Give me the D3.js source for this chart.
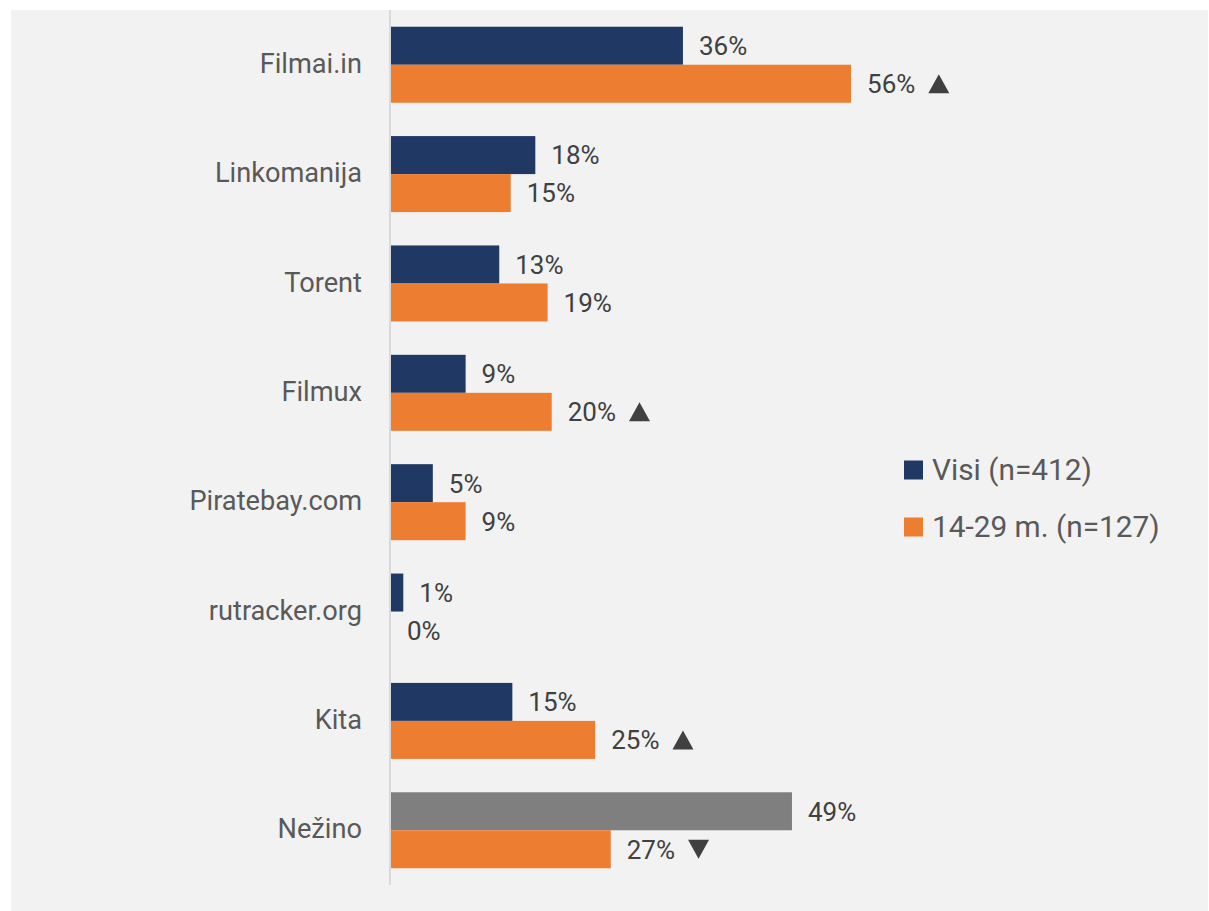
<!DOCTYPE html>
<html lang="lt">
<head>
  <meta charset="UTF-8" />
  <title>Svetainės</title>
  <script src="https://d3js.org/d3.v7.min.js"></script>
  <style>
    body { margin: 0; background: #fff; font-family: Roboto, Arial, sans-serif; }
    .cat { font-size: 27.2px; fill: #595959; }
    .val { font-size: 26px; fill: #404040; }
    .leg { font-size: 29.8px; fill: #595959; }
  </style>
</head>
<body>
<svg id="chart" width="1209" height="911"></svg>
<script>
// data
const categories = ["Filmai.in", "Linkomanija", "Torent", "Filmux", "Piratebay.com", "rutracker.org", "Kita", "Nežino"];
const allValues   = [35.6, 17.6, 13.2, 9.1, 5.1, 1.5, 14.8, 48.9];
const youngValues = [56.1, 14.6, 19.1, 19.6, 9.1, 0, 24.9, 26.8];
const allLabels   = ["36%", "18%", "13%", "9%", "5%", "1%", "15%", "49%"];
const youngLabels = ["56%", "15%", "19%", "20%", "9%", "0%", "25%", "27%"];
const youngMarks  = ["up", "", "", "up", "", "", "up", "down"];
const seriesNames = ["Visi (n=412)", "14-29 m. (n=127)"];
const colors = ["#203864", "#ed7d31"];
const unknownColor = "#7f7f7f";

const svg = d3.select("#chart");

svg.append("rect")
  .attr("x", 11).attr("y", 10)
  .attr("width", 1197).attr("height", 901)
  .attr("fill", "#f2f2f2");

const x = d3.scaleLinear().domain([0, 100]).range([391, 1211]);
const y = d3.scaleBand().domain(categories).range([10, 885]).paddingInner(0.305).paddingOuter(0.153);
const sub = d3.scaleBand().domain([0, 1]).range([0, y.bandwidth()]);

// axis line
svg.append("line")
  .attr("x1", 390).attr("x2", 390)
  .attr("y1", 10).attr("y2", 885)
  .attr("stroke", "#d9d9d9").attr("stroke-width", 2);

const rows = categories.map((c, i) => ({
  cat: c,
  bars: [
    { s: 0, v: allValues[i], label: allLabels[i], mark: "" },
    { s: 1, v: youngValues[i], label: youngLabels[i], mark: youngMarks[i] }
  ]
}));

const grp = svg.append("g").selectAll("g.row").data(rows).enter().append("g")
  .attr("class", "row")
  .attr("transform", d => `translate(0,${y(d.cat)})`);

grp.selectAll("rect").data(d => d.bars.map(b => ({ ...b, cat: d.cat }))).enter().append("rect")
  .attr("x", x(0))
  .attr("y", d => sub(d.s))
  .attr("width", d => x(d.v) - x(0))
  .attr("height", sub.bandwidth())
  .attr("fill", d => d.cat === "Nežino" && d.s === 0 ? unknownColor : colors[d.s]);

const vals = grp.selectAll("g.val").data(d => d.bars).enter().append("g")
  .attr("transform", d => `translate(${x(d.v) + 16},${sub(d.s) + sub.bandwidth() / 2})`);

vals.append("text")
  .attr("class", "val")
  .attr("dy", "0.36em")
  .text(d => d.label);

// significance triangles
vals.filter(d => d.mark).each(function(d) {
  const w = this.querySelector("text").getComputedTextLength();
  const x0 = w + 13, tw = 21, th = 19;
  const pts = d.mark === "up"
    ? [[x0, th / 2], [x0 + tw, th / 2], [x0 + tw / 2, -th / 2]]
    : [[x0, -th / 2], [x0 + tw, -th / 2], [x0 + tw / 2, th / 2]];
  d3.select(this).append("path")
    .attr("d", d3.line()(pts) + "Z")
    .attr("fill", "#404040");
});

grp.append("text")
  .attr("class", "cat")
  .attr("x", 362)
  .attr("y", y.bandwidth() / 2)
  .attr("dy", "0.3em")
  .attr("text-anchor", "end")
  .text(d => d.cat);

// legend
const legend = svg.append("g").attr("transform", "translate(904,0)");
seriesNames.forEach((name, i) => {
  const ly = 470 + i * 57;
  legend.append("rect")
    .attr("x", 0).attr("y", ly - 9.5)
    .attr("width", 19).attr("height", 19)
    .attr("fill", colors[i]);
  legend.append("text")
    .attr("class", "leg")
    .attr("x", 28).attr("y", ly)
    .attr("dy", "0.33em")
    .text(name);
});
</script>
</body>
</html>
